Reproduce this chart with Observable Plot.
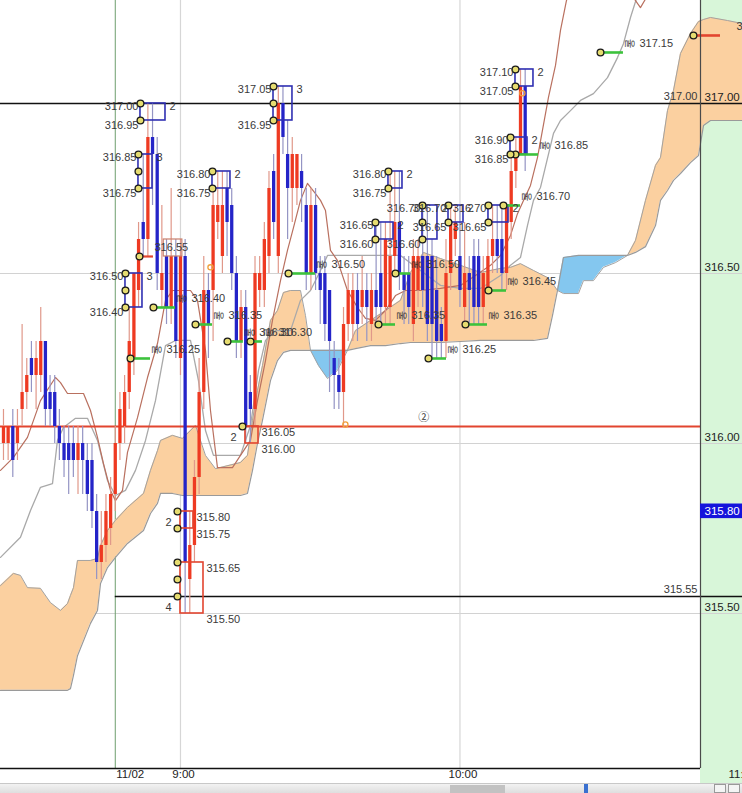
<!DOCTYPE html>
<html><head><meta charset="utf-8">
<script src="https://cdn.jsdelivr.net/npm/d3@7"></script>
<script src="https://cdn.jsdelivr.net/npm/@observablehq/plot@0.6"></script>
<style>
body{margin:0;background:#fff;width:742px;height:793px;overflow:hidden;font-family:"Liberation Sans",sans-serif}
#scroll{position:relative;height:10px;width:742px;background:linear-gradient(#f2f2f2,#dedede);border-top:1px solid #c8c8c8;box-sizing:border-box}
#scroll .thumb{position:absolute;left:450px;width:55px;top:1px;height:8px;background:#c2c2c2}
#scroll .mark{position:absolute;left:584px;width:4px;top:0;height:10px;background:#3a70d0}
#scroll .btn{position:absolute;top:0;height:9px;width:12px;border:1px solid #999;background:#f4f4f4;box-sizing:border-box}
</style></head>
<body><div id="chart"></div><div id="scroll"><div class="thumb"></div><div class="mark"></div><div class="btn" style="left:714px"></div><div class="btn" style="left:728px"></div></div>
<script>
// ---- view (minutes from 9:00, prices) ----
const view = {start: -38.64, plotEnd: 111.64, stripEnd: 120.66};
const priceView = {low: 315.0441, high: 317.3029};

// ---- 1-minute candles ----
const candleMinute = [-38,-37,-36,-35,-34,-33,-32,-31,-30,-29,-28,-27,-26,-25,-24,-23,-22,-21,-20,-19,-18,-17,-16,-15,-14,-13,-12,-11,-10,-9,-8,-7,-6,-5,-4,-3,-2,-1,0,1,2,3,4,5,6,7,8,9,10,11,12,13,14,15,16,17,18,19,20,21,22,23,24,25,26,27,28,29,30,31,32,33,34,35,36,37,38,39,40,41,42,43,44,45,46,47,48,49,50,51,52,53,54,55,56,57,58,59,60,61,62,63,64,65,66,67,68,69,70,71,72,73,74];
const candleOpen  = [316.00,316.00,316.05,316.00,316.10,316.15,316.25,316.20,316.20,316.30,316.15,316.15,316.05,316.00,316.00,316.00,315.95,316.00,315.95,315.95,315.80,315.65,315.70,315.75,315.85,316.00,316.05,316.15,316.25,316.45,316.65,316.60,316.90,316.85,316.45,316.55,316.40,316.55,316.25,316.55,315.60,315.70,315.90,316.15,316.45,316.45,316.65,316.55,316.75,316.70,316.50,316.30,316.40,316.15,316.10,316.45,316.45,316.55,316.80,316.55,317.00,316.85,316.75,316.75,316.80,316.70,316.50,316.70,316.50,316.50,316.45,316.25,316.20,316.15,316.35,316.35,316.45,316.40,316.45,316.35,316.45,316.50,316.40,316.40,316.55,316.65,316.50,316.50,316.35,316.45,316.55,316.55,316.55,316.45,316.35,316.30,316.50,316.60,316.55,316.40,316.50,316.55,316.55,316.40,316.45,316.55,316.60,316.60,316.50,316.65,316.80,316.85,317.05];
const candleHigh  = [316.10,316.05,316.10,316.10,316.35,316.25,316.30,316.30,316.40,316.30,316.20,316.20,316.10,316.05,316.05,316.05,316.05,316.05,316.00,316.00,315.85,315.80,315.85,315.90,316.05,316.15,316.20,316.40,316.50,316.65,316.85,317.00,317.00,316.90,316.70,316.60,316.75,316.60,316.60,316.60,315.80,315.95,316.25,316.55,316.50,316.75,316.80,316.80,316.80,316.75,316.55,316.45,316.45,316.20,316.55,316.55,316.65,316.80,316.85,317.05,317.05,316.95,316.90,316.85,316.85,316.75,316.75,316.75,316.55,316.55,316.45,316.30,316.25,316.40,316.50,316.50,316.50,316.55,316.50,316.50,316.65,316.65,316.65,316.80,316.80,316.80,316.55,316.55,316.60,316.60,316.70,316.70,316.60,316.55,316.40,316.60,316.70,316.70,316.70,316.65,316.55,316.60,316.60,316.55,316.60,316.70,316.70,316.70,316.70,316.85,316.90,317.10,317.10];
const candleLow   = [315.95,315.95,315.90,315.95,316.05,316.10,316.15,316.10,316.15,316.05,316.05,316.00,315.95,315.90,315.85,315.90,315.85,315.85,315.80,315.75,315.60,315.60,315.65,315.70,315.80,315.95,316.00,316.10,316.20,316.40,316.55,316.55,316.70,316.45,316.40,316.35,316.35,316.25,316.20,315.50,315.50,315.65,315.85,316.10,316.25,316.30,316.60,316.50,316.55,316.45,316.25,316.25,316.00,316.00,316.05,316.40,316.40,316.50,316.60,316.50,316.85,316.60,316.65,316.70,316.65,316.45,316.45,316.45,316.35,316.30,316.15,316.10,316.10,316.05,316.30,316.30,316.30,316.35,316.30,316.30,316.35,316.35,316.35,316.35,316.50,316.45,316.35,316.35,316.30,316.40,316.40,316.30,316.25,316.25,316.25,316.25,316.45,316.55,316.40,316.35,316.35,316.35,316.35,316.35,316.45,316.50,316.50,316.45,316.45,316.60,316.75,316.85,316.80];
const candleClose = [316.05,316.05,315.95,316.05,316.15,316.20,316.20,316.25,316.30,316.10,316.10,316.05,316.00,315.95,315.95,315.95,316.00,315.95,315.85,315.80,315.65,315.70,315.80,315.85,316.00,316.10,316.15,316.30,316.50,316.60,316.60,316.90,316.85,316.50,316.50,316.40,316.55,316.30,316.55,315.65,315.70,315.90,316.15,316.45,316.35,316.70,316.70,316.70,316.65,316.50,316.30,316.40,316.05,316.10,316.50,316.50,316.60,316.75,316.65,317.00,316.90,316.75,316.85,316.85,316.75,316.50,316.70,316.50,316.45,316.35,316.30,316.20,316.15,316.35,316.45,316.45,316.35,316.45,316.40,316.45,316.40,316.40,316.60,316.55,316.65,316.50,316.45,316.40,316.55,316.55,316.45,316.35,316.35,316.30,316.30,316.50,316.65,316.65,316.45,316.50,316.45,316.40,316.40,316.50,316.55,316.60,316.55,316.50,316.70,316.80,316.85,317.05,316.85];

// ---- Ichimoku cloud (leading spans) ----
const cloudMinute = [-38.64,-35.85,-34.35,-32.85,-30.06,-27.91,-25.76,-24.26,-23.62,-22.97,-22.11,-19.32,-17.82,-17.17,-15.67,-13.95,-11.38,-7.94,-6.44,-4.94,-4.29,-1.72,0.43,3.22,5.37,7.51,12.88,14.38,15.46,16.53,17.60,19.32,20.82,22.11,23.62,25.76,26.84,27.91,29.63,31.56,33.71,35.85,37.57,40.79,44.01,47.23,49.38,52.17,55.82,60.11,64.41,68.70,70.85,72.99,75.78,78.79,79.86,80.94,82.22,85.44,86.52,88.66,90.81,93.39,95.96,97.68,99.83,101.98,103.05,104.55,105.84,107.34,109.49,111.21,112.28,113.78,117.43,120.65];
const spanA = [315.582,315.618,315.612,315.576,315.574,315.532,315.509,315.529,315.553,315.576,315.656,315.656,315.662,315.700,315.744,315.774,315.812,315.853,315.921,315.979,316.009,316.024,316.015,316.053,315.965,315.926,315.944,315.965,316.068,316.156,316.229,316.362,316.391,316.444,316.450,316.450,316.376,316.274,316.229,316.191,316.215,316.274,316.332,316.362,316.391,316.421,316.503,316.562,316.544,316.524,316.503,316.515,316.518,316.529,316.509,316.488,316.471,316.450,316.441,316.441,316.479,316.479,316.518,316.532,316.553,316.597,316.715,316.818,316.841,316.979,317.038,317.147,317.206,317.241,317.247,317.253,317.244,317.235];
const spanB = [315.274,315.274,315.274,315.274,315.274,315.274,315.274,315.274,315.279,315.318,315.376,315.471,315.509,315.588,315.635,315.665,315.706,315.744,315.794,315.824,315.853,315.853,315.847,315.847,315.847,315.847,315.847,315.853,315.921,316.000,316.068,316.185,316.244,316.268,316.274,316.274,316.274,316.274,316.274,316.274,316.274,316.274,316.279,316.288,316.288,316.294,316.297,316.297,316.297,316.300,316.303,316.303,316.303,316.303,316.303,316.309,316.376,316.450,316.547,316.553,316.553,316.553,316.553,316.553,316.553,316.562,316.579,316.641,316.715,316.744,316.774,316.794,316.826,316.847,316.935,316.950,316.950,316.950];

// ---- conversion (brown) and base (gray) lines ----
const tenkanMinute = [-38.64,-35.85,-32.85,-30.06,-26.84,-25.76,-24.26,-20.82,-19.32,-17.82,-16.53,-15.03,-13.95,-12.45,-11.38,-9.23,-7.08,-4.94,-3.22,-1.72,2.15,3.65,5.37,6.44,7.94,11.16,12.88,15.03,16.53,18.25,19.75,21.47,22.97,24.26,25.76,27.26,28.98,30.06,31.13,32.20,33.71,35.85,38.00,39.72,41.86,44.01,46.16,48.30,51.52,55.82,60.11,63.33,66.55,68.70,70.85,72.35,73.64,75.14,76.64,79.00,80.51,81.58,82.87,84.16,96.18,98.75,100.90];
const tenkanPrice = [315.921,315.959,316.018,316.126,316.194,316.179,316.147,316.147,316.097,316.018,315.941,315.862,315.832,315.862,315.974,316.076,316.194,316.294,316.421,316.450,316.450,316.421,316.274,316.097,315.929,315.929,315.965,316.009,316.126,316.244,316.362,316.479,316.568,316.635,316.715,316.765,316.735,316.715,316.685,316.568,316.538,316.450,316.400,316.368,316.362,316.391,316.435,316.450,316.450,316.456,316.465,316.494,316.524,316.553,316.612,316.676,316.715,316.759,316.841,317.018,317.112,317.215,317.303,317.347,317.332,317.282,317.332];
const kijunMinute = [-38.64,-34.35,-32.20,-30.06,-27.48,-26.41,-25.12,-22.54,-19.97,-17.82,-15.67,-13.95,-11.81,-9.66,-7.51,-5.37,-3.22,-1.07,2.15,3.86,5.37,7.08,12.88,15.03,16.75,18.25,20.40,23.62,25.76,27.91,30.06,31.56,47.23,51.52,55.82,60.11,64.41,68.70,70.85,72.99,74.49,75.78,77.29,80.08,81.58,83.73,85.87,88.66,91.67,93.82,95.10,96.61,98.11];
const kijunPrice = [315.665,315.724,315.803,315.871,315.882,316.009,316.047,316.074,316.074,316.009,315.891,315.847,315.862,315.921,316.009,316.126,316.288,316.303,316.303,316.185,316.038,315.965,315.965,316.053,316.215,316.303,316.332,316.332,316.421,316.450,316.509,316.553,316.553,316.509,316.465,316.456,316.456,316.494,316.524,316.547,316.641,316.715,316.753,316.912,316.950,316.979,317.009,317.029,317.076,317.135,317.176,317.253,317.318];

// ---- high clusters (blue boxes) ----
const highBoxStart  = [-8.59,-9.02,-11.81,6.87,19.97,44.65,41.86,51.95,57.54,66.12,70.85,71.92];
const highBoxEnd    = [-3.22,-6.01,-8.16,10.73,24.04,47.66,45.73,55.17,60.76,70.42,74.50,75.78];
const highBoxTop    = [317.00,316.85,316.50,316.80,317.05,316.80,316.65,316.70,316.70,316.70,316.90,317.10];
const highBoxBottom = [316.95,316.75,316.40,316.75,316.95,316.75,316.60,316.60,316.65,316.65,316.85,317.05];
const highBoxCount  = ["2","3","3","2","3","2","2","2","2","2","2","2"];

// ---- low clusters (red boxes) ----
const lowBoxStart  = [0.00,0.00,13.95];
const lowBoxEnd    = [2.79,4.94,16.75];
const lowBoxTop    = [315.80,315.65,316.05];
const lowBoxBottom = [315.75,315.50,316.00];
const lowBoxCount  = ["2","4","2"];
const lowBoxTouches = [[315.80,315.75],[315.65,315.60,315.55],[316.05]];

// ---- signal levels (green / red stubs) ----
const signalStart = [-10.73,-5.80,3.22,10.09,15.03,23.19,42.51,46.16,53.24,61.18,66.12,69.34,71.92,90.17,110.13];
const signalEnd   = [-6.44,-1.07,6.87,13.50,17.60,28.98,46.16,49.38,57.11,65.91,69.99,72.99,76.86,95.10,115.93];
const signalPrice = [316.25,316.40,316.35,316.30,316.30,316.50,316.35,316.50,316.25,316.35,316.45,316.70,316.85,317.15,317.20];
const signalKind  = ["g","g","g","g","g","g","g","g","g","g","g","g","g","g","r"];

// ---- misc levels & labels ----
const supportLine = [316.05];
const blackLines = [317.00, 315.55];
const blackLineStart = [-38.64, -14];
const gridPrices = [315.50, 316.00, 316.50, 317.00];
const gridMinutes = [0, 60];
const sessionStart = [-14];
const dateLabel = [{t: -14, text: "11/02"}];
const timeLabel = [{t: 0, text: "9:00"}, {t: 60, text: "10:00"}, {t: 120, text: "11:00"}];
const currentPrice = [315.80];
const smallMark = {t: -8.8, end: -5.8, price: 316.55, boxStart: -3.6, boxEnd: 0.4, boxTop: 316.60};
const orangeMarks = [[6.44, 316.518], [35.4, 316.056], [73.4, 317.03]];
const circledLabel = [{t: 52.2, p: 316.076, text: "②"}];

// ---- build tables ----
const candles = candleMinute.map((t, i) => ({t, open: candleOpen[i], high: candleHigh[i], low: candleLow[i], close: candleClose[i]}));
const cloud = cloudMinute.map((t, i) => ({t, a: spanA[i], b: spanB[i]}));
const tenkan = tenkanMinute.map((t, i) => ({t, p: tenkanPrice[i]}));
const kijun = kijunMinute.map((t, i) => ({t, p: kijunPrice[i]}));
const highBoxes = highBoxStart.map((s, i) => ({start: s, end: highBoxEnd[i], top: highBoxTop[i], bottom: highBoxBottom[i], count: highBoxCount[i]}));
const highTouches = highBoxes.flatMap(b => { const r = []; const n = Math.round((b.top - b.bottom) / 0.05); for (let k = 0; k <= n; k++) r.push({t: b.start, p: +(b.bottom + k * 0.05).toFixed(2)}); return r; });
const lowBoxes = lowBoxStart.map((s, i) => ({start: s, end: lowBoxEnd[i], top: lowBoxTop[i], bottom: lowBoxBottom[i], count: lowBoxCount[i]}));
const lowTouches = lowBoxes.flatMap((b, i) => lowBoxTouches[i].map(p => ({t: b.start, p})));
const signals = signalStart.map((s, i) => ({start: s, end: signalEnd[i], price: signalPrice[i], kind: signalKind[i]}));
const blackRows = blackLines.map((p, i) => ({p, start: blackLineStart[i]}));

const UP = "#ee3a22", DOWN = "#2424c8", UPW = "#e0988a", DOWNW = "#9494c4";
const TXT = "#3a3a3a";
const NUMFONT = "Liberation Sans";

const chart = Plot.plot({
  width: 742, height: 783,
  marginTop: 0, marginRight: 42, marginBottom: 15, marginLeft: 0,
  x: {domain: [view.start, view.plotEnd], axis: null},
  y: {domain: [priceView.low, priceView.high], axis: null},
  style: {background: "linear-gradient(to right, #ffffff 700px, #d8f6d9 700px)", fontFamily: NUMFONT, fontSize: "11px", color: TXT, overflow: "hidden"},
  marks: [
    // grid
    Plot.ruleY(gridPrices, {y: d => d, x1: () => view.start, x2: () => view.stripEnd, stroke: "#d2d2d2", strokeWidth: 1.2}),
    Plot.ruleX(gridMinutes, {x: d => d, y1: () => priceView.low, y2: () => priceView.high, stroke: "#d6d6d6", strokeWidth: 1.2}),
    Plot.ruleX(sessionStart, {x: d => d, y1: () => priceView.low, y2: () => priceView.high, stroke: "#6e9e6e", strokeWidth: 1}),
    // cloud
    Plot.areaY(cloud, {x: "t", y1: "b", y2: d => Math.max(d.a, d.b), fill: "#fbd0a0"}),
    Plot.areaY(cloud, {x: "t", y1: "a", y2: d => Math.max(d.a, d.b), fill: "#84c7ef"}),
    Plot.line(cloud, {x: "t", y: "a", stroke: "#a2a2a2", strokeWidth: 1}),
    Plot.line(cloud, {x: "t", y: "b", stroke: "#9a9a9a", strokeWidth: 1.2}),
    // lines
    Plot.line(kijun, {x: "t", y: "p", stroke: "#a9a9a9", strokeWidth: 1.3}),
    Plot.line(tenkan, {x: "t", y: "p", stroke: "#b9705f", strokeWidth: 1.2}),
    // horizontal levels
    Plot.ruleY(supportLine, {y: d => d, x1: () => view.start, x2: () => view.plotEnd, stroke: "#e2452f", strokeWidth: 2}),
    Plot.ruleY(blackRows, {y: "p", x1: "start", x2: () => view.stripEnd, stroke: "#111", strokeWidth: 1.6}),
    // candles
    Plot.ruleX(candles, {x: "t", y1: "low", y2: "high", stroke: d => d.close >= d.open ? UPW : DOWNW, strokeWidth: 1.2}),
    Plot.ruleX(candles, {x: "t", y1: "open", y2: "close", stroke: d => d.close >= d.open ? UP : DOWN, strokeWidth: 3.3}),
    // small level mark
    Plot.rect([smallMark], {x1: "boxStart", x2: "boxEnd", y1: "price", y2: "boxTop", fill: "none", stroke: "#c9806e", strokeWidth: 1.2}),
    Plot.ruleY([smallMark], {y: "price", x1: "t", x2: "end", stroke: "#e2452f", strokeWidth: 2.2}),
    // boxes
    Plot.rect(highBoxes, {x1: "start", x2: "end", y1: "bottom", y2: "top", fill: "none", stroke: "#3030b2", strokeWidth: 1.6}),
    Plot.rect(lowBoxes, {x1: "start", x2: "end", y1: "bottom", y2: "top", fill: "none", stroke: "#e2452f", strokeWidth: 1.6}),
    // signal stubs
    Plot.ruleY(signals, {y: "price", x1: "start", x2: "end", stroke: d => d.kind === "r" ? "#e2452f" : "#3cc23c", strokeWidth: 2.6}),
    // touch circles
    Plot.dot(signals, {x: "start", y: "price", r: 3.4, fill: "#e6dc70", stroke: "#1a1a1a", strokeWidth: 1.3}),
    Plot.dot(highTouches, {x: "t", y: "p", r: 3.4, fill: "#e6dc70", stroke: "#1a1a1a", strokeWidth: 1.3}),
    Plot.dot(lowTouches, {x: "t", y: "p", dx: -3, r: 3.4, fill: "#e6dc70", stroke: "#1a1a1a", strokeWidth: 1.3}),
    Plot.dot([smallMark], {x: "t", y: "price", r: 3.4, fill: "#e6dc70", stroke: "#1a1a1a", strokeWidth: 1.3}),
    Plot.dot(orangeMarks, {x: d => d[0], y: d => d[1], r: 2.6, fill: "none", stroke: "#f0a03c", strokeWidth: 1.3}),
    // high box labels
    Plot.text(highBoxes, {x: "start", y: "top", text: d => d.top.toFixed(2), textAnchor: "end", dx: -2, dy: 3, fill: TXT, fontSize: 11}),
    Plot.text(highBoxes, {x: "start", y: "bottom", text: d => d.bottom.toFixed(2), textAnchor: "end", dx: -2, dy: 5, fill: TXT, fontSize: 11}),
    Plot.text(highBoxes, {x: "end", y: "top", text: "count", textAnchor: "start", dx: 4, dy: 3, fill: TXT, fontSize: 11}),
    // low box labels
    Plot.text(lowBoxes, {x: "end", y: "top", text: d => d.top.toFixed(2), textAnchor: "start", dx: 3, dy: 6, fill: TXT, fontSize: 11}),
    Plot.text(lowBoxes, {x: "end", y: "bottom", text: d => d.bottom.toFixed(2), textAnchor: "start", dx: 3, dy: 6, fill: TXT, fontSize: 11}),
    Plot.text(lowBoxes, {x: "start", y: "bottom", text: "count", textAnchor: "middle", dx: -12, dy: -6, fill: TXT, fontSize: 11}),
    // signal labels
    Plot.text(signals.filter(d => d.kind === "g"), {x: "end", y: "price", text: () => "울", rotate: 90, dx: 6, dy: -9, fill: "#333", fontSize: 10, fontFamily: "Noto Sans CJK KR"}),
    Plot.text(signals, {x: "end", y: "price", text: d => d.price.toFixed(2), textAnchor: "start", dx: 16, dy: -9, fill: TXT, fontSize: 11}),
    Plot.text([smallMark], {x: "end", y: "price", text: d => d.price.toFixed(2), textAnchor: "start", dx: 1, dy: -9, fill: TXT, fontSize: 11}),
    Plot.text(circledLabel, {x: "t", y: "p", text: "text", fill: "#333", fontSize: 11, fontFamily: "Noto Sans CJK KR"}),
    // black level labels
    Plot.text(blackLines, {y: d => d, text: d => d.toFixed(2), frameAnchor: "right", textAnchor: "end", dx: -3, dy: -7, fill: TXT, fontSize: 11}),
    // frame lines
    Plot.ruleX([view.plotEnd], {x: d => d, y1: () => priceView.low, y2: () => priceView.high, stroke: "#4a4a4a", strokeWidth: 1.2}),
    Plot.ruleY([priceView.low], {y: d => d, x1: () => view.start, x2: () => view.plotEnd, stroke: "#111", strokeWidth: 1.4}),
    // right price axis
    Plot.text(gridPrices, {y: d => d, text: d => d.toFixed(2), frameAnchor: "right", textAnchor: "start", dx: 4, dy: -6, fill: "#222", fontSize: 11.5}),
    Plot.rect(currentPrice, {x1: () => view.plotEnd, x2: () => view.stripEnd, y1: d => d - 0.021, y2: d => d + 0.022, fill: "#1414dc"}),
    Plot.text(currentPrice, {y: d => d, text: d => d.toFixed(2), frameAnchor: "right", textAnchor: "start", dx: 4, fill: "#fff", fontSize: 11.5}),
    // time axis
    Plot.text(dateLabel, {x: "t", text: "text", frameAnchor: "bottom", textAnchor: "start", dx: 1, dy: 9, fill: "#222", fontSize: 11.5}),
    Plot.text(timeLabel, {x: "t", text: "text", frameAnchor: "bottom", textAnchor: "middle", dx: 3, dy: 9, fill: "#222", fontSize: 11.5})
  ]
});
document.getElementById("chart").appendChild(chart);
</script>
</body></html>
